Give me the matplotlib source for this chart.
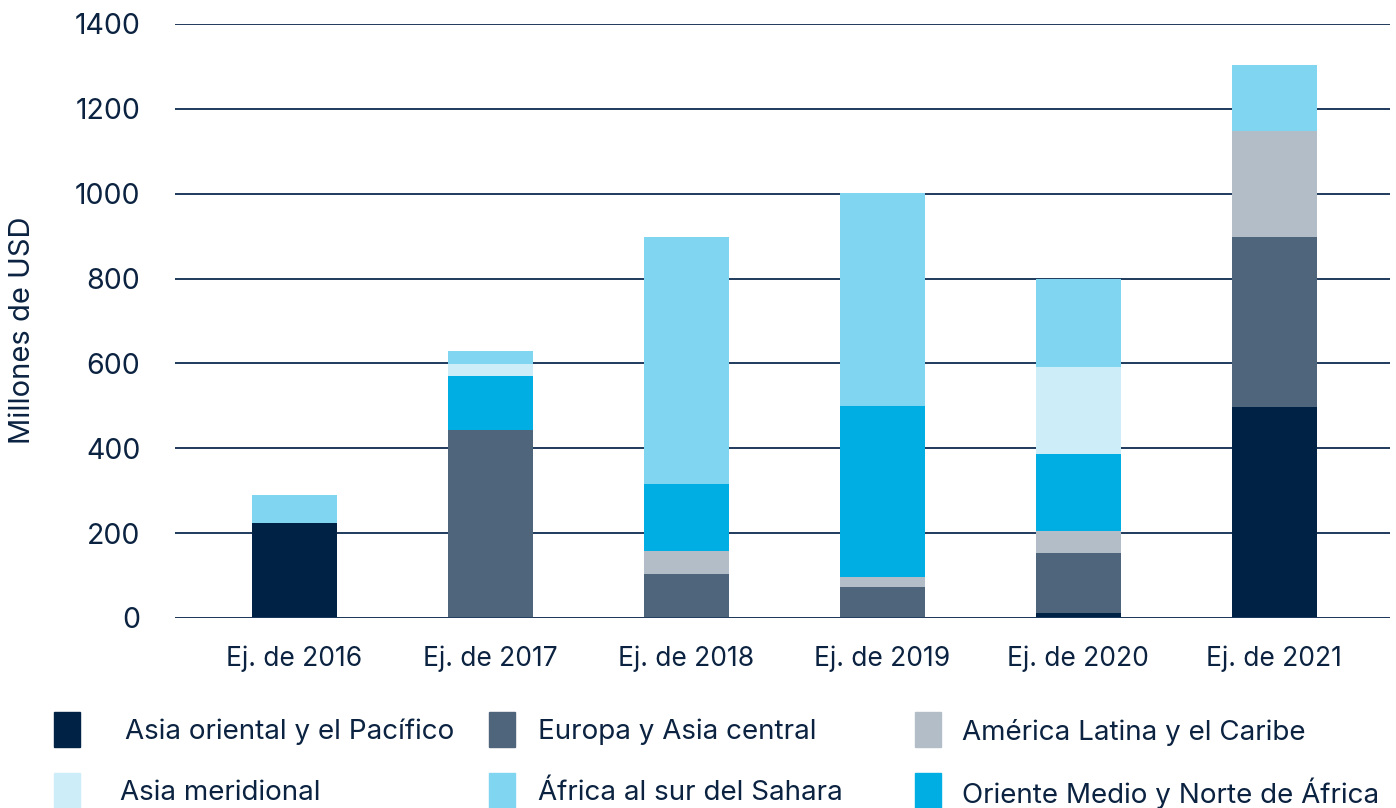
import matplotlib.pyplot as plt
from matplotlib.patches import Rectangle
import numpy as np

plt.rcParams['font.family'] = ['Inter', 'DejaVu Sans']

years = ["Ej. de 2016", "Ej. de 2017", "Ej. de 2018", "Ej. de 2019", "Ej. de 2020", "Ej. de 2021"]

# millones de USD por region (stack order bottom -> top)
asia_oriental = [225, 0, 0, 0, 12, 497]
europa_asia_central = [0, 443, 104, 73, 141, 401]
america_latina = [0, 0, 54, 24, 52, 250]
oriente_medio = [0, 127, 158, 403, 182, 0]
asia_meridional = [0, 29, 0, 0, 205, 0]
africa_sahara = [65, 30, 582, 502, 207, 155]

series = [
    ("Asia oriental y el Pacífico", asia_oriental, "#002244"),
    ("Europa y Asia central", europa_asia_central, "#4f657c"),
    ("América Latina y el Caribe", america_latina, "#b3bdc7"),
    ("Oriente Medio y Norte de África", oriente_medio, "#00aee4"),
    ("Asia meridional", asia_meridional, "#cdeef8"),
    ("África al sur del Sahara", africa_sahara, "#80d5f0"),
]

navy = "#0b2341"

fig = plt.figure(figsize=(13.96, 8.08), dpi=100)
ax = fig.add_axes([175 / 1396, 1 - 618 / 808, 1215 / 1396, 594 / 808])

x = np.arange(len(years))
bottom = np.zeros(len(years))
for name, vals, col in series:
    ax.bar(x, vals, 0.43, bottom=bottom, color=col, zorder=3)
    bottom += np.array(vals)

ax.set_ylim(0, 1400)
ax.set_xlim(-0.61, 5.59)
ax.set_yticks(range(0, 1401, 200))
ax.yaxis.grid(True, color="#1f3a5c", linewidth=1.4, zorder=0)
ax.set_axisbelow(True)
for s in ax.spines.values():
    s.set_visible(False)
ax.axhline(0, color="#1f3a5c", linewidth=2.0, zorder=4)
ax.set_xticks(x)
ax.set_xticklabels(years)
ax.tick_params(axis="both", length=0, labelsize=19, colors=navy)
ax.tick_params(axis="y", labelsize=20.5, pad=25)
ax.tick_params(axis="x", pad=20)
ax.set_ylabel("Millones de USD", fontsize=21, color=navy)
ax.yaxis.set_label_coords(-0.114, 0.485)

# legend drawn in figure pixels
W, H = 1396, 808
leg_pos = [
    (54, 125, 712), (489, 538, 712), (915, 962, 712),
    (54, 120, 773), (489, 538, 773), (915, 962, 773),
]
leg_order = [0, 1, 2, 4, 5, 3]
for (sx, tx, ty), idx in zip(leg_pos, leg_order):
    name, _, col = series[idx]
    fig.patches.append(Rectangle((sx / W, 1 - (ty + 35) / H), 26 / W, 35 / H,
                                 color=col, transform=fig.transFigure))
    fig.text(tx / W, 1 - (ty + 20) / H, name, fontsize=20, color=navy, va="center", ha="left")

fig.savefig("out.png", dpi=100)
